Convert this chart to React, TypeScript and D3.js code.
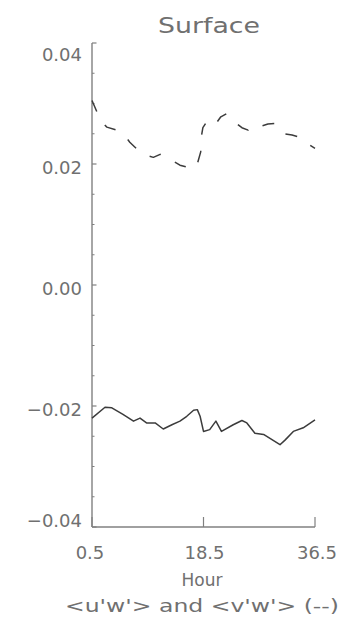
import React from "react";
import * as d3 from "d3";

const title = "Surface";
const xTicks = [0.5, 18.5, 36.5];
const yTicks = [-0.04, -0.02, 0.0, 0.02, 0.04];
const yMinorTicks = [-0.035, -0.03, -0.025, -0.015, -0.01, -0.005, 0.005, 0.01, 0.015, 0.025, 0.03, 0.035];

// <u'w'> solid line
const uwHours = [0.5, 2.6, 3.7, 5.5, 7.2, 8.25, 9.3, 10.7, 12.0, 13.4, 14.7, 15.8, 16.9, 17.5, 17.95, 18.5, 19.5, 20.5, 21.4, 23.3, 24.7, 25.5, 26.8, 28.2, 30.85, 31.7, 33.0, 34.6, 36.5];
const uwValues = [-0.022, -0.0202, -0.0203, -0.0214, -0.0225, -0.022, -0.0228, -0.0228, -0.0238, -0.0231, -0.0225, -0.0217, -0.0207, -0.0206, -0.0217, -0.0242, -0.0239, -0.0225, -0.0242, -0.0231, -0.0224, -0.0228, -0.0245, -0.0247, -0.0264, -0.0256, -0.0242, -0.0236, -0.0223];

// <v'w'> dashed line
const vwHours = [0.5, 1.3, 2.0, 2.9, 4.75, 5.7, 6.6, 8.25, 9.4, 10.4, 11.5, 12.6, 13.6, 14.7, 16.9, 17.5, 18.05, 18.1, 18.4, 18.9, 19.7, 20.6, 21.3, 22.2, 23.8, 24.7, 25.7, 26.7, 27.6, 28.9, 30.0, 31.4, 32.8, 34.1, 35.7, 36.5];
const vwValues = [0.0305, 0.0286, 0.027, 0.0261, 0.0255, 0.0248, 0.0236, 0.022, 0.0214, 0.0211, 0.0216, 0.0211, 0.0205, 0.0198, 0.0192, 0.02, 0.022, 0.0242, 0.026, 0.0268, 0.0275, 0.0268, 0.0278, 0.0283, 0.0267, 0.026, 0.0256, 0.0264, 0.0262, 0.0266, 0.0267, 0.025, 0.0248, 0.0244, 0.0231, 0.0226];

const xLabel = "Hour";
const subLabel = "<u'w'> and <v'w'> (--)";

export default function App() {
  const W = 344;
  const H = 618;
  const left = 92;
  const right = 315;
  const top = 43;
  const bottom = 527;
  const x = d3.scaleLinear().domain([0.5, 36.5]).range([left, right]);
  const y = d3.scaleLinear().domain([-0.04, 0.04]).range([bottom, top]);

  const line = d3
    .line<[number, number]>()
    .x((d) => x(d[0]))
    .y((d) => y(d[1]));

  const uw = uwHours.map((h, i) => [h, uwValues[i]] as [number, number]);
  const vw = vwHours.map((h, i) => [h, vwValues[i]] as [number, number]);

  const textColor = "#707070";
  const axisColor = "#808080";
  const lineColor = "#3c3c3c";
  const font = "DejaVu Sans, sans-serif";

  const yLabelDy = (t: number) => (t === 0.04 ? 11 : t === -0.04 ? -7 : 3.5);

  return (
    <svg
      width={W}
      height={H}
      style={{ position: "absolute", left: 0, top: 0, background: "#fff" }}
    >
      <rect x={0} y={0} width={W} height={H} fill="#fff" />
      <text
        x={209}
        y={26}
        textAnchor="middle"
        dominantBaseline="central"
        fontFamily={font}
        fontSize={21}
        fill={textColor}
        textLength={102}
        lengthAdjust="spacingAndGlyphs"
      >
        {title}
      </text>

      {/* axes */}
      <line x1={left} y1={top} x2={left} y2={bottom} stroke={axisColor} strokeWidth={1.4} />
      <line x1={left} y1={bottom} x2={right} y2={bottom} stroke={axisColor} strokeWidth={1.4} />

      {yTicks.map((t) => (
        <g key={"yt" + t}>
          <line x1={left} x2={left + 4.5} y1={y(t)} y2={y(t)} stroke={axisColor} strokeWidth={1.2} />
          <text
            x={82}
            y={y(t) + yLabelDy(t)}
            textAnchor="end"
            dominantBaseline="central"
            fontFamily={font}
            fontSize={18}
            fill={textColor}
          >
            {t === 0 ? "0.00" : (t < 0 ? "\u2212" : "") + Math.abs(t).toFixed(2)}
          </text>
        </g>
      ))}
      {yMinorTicks.map((t) => (
        <line key={"ym" + t} x1={left} x2={left + 2.5} y1={y(t)} y2={y(t)} stroke={axisColor} strokeWidth={1} />
      ))}

      {xTicks.map((t) => (
        <g key={"xt" + t}>
          <line x1={x(t)} x2={x(t)} y1={bottom} y2={bottom - 10} stroke={axisColor} strokeWidth={1.2} />
          <text
            x={x(t) + (t === 0.5 ? -2 : t === 36.5 ? 2 : 1)}
            y={552}
            textAnchor="middle"
            dominantBaseline="central"
            fontFamily={font}
            fontSize={18}
            fill={textColor}
          >
            {t.toFixed(1)}
          </text>
        </g>
      ))}

      <text
        x={202}
        y={580}
        textAnchor="middle"
        dominantBaseline="central"
        fontFamily={font}
        fontSize={17}
        fill={textColor}
      >
        {xLabel}
      </text>
      <text
        x={202}
        y={606}
        textAnchor="middle"
        dominantBaseline="central"
        fontFamily={font}
        fontSize={17}
        fill={textColor}
        textLength={274}
        lengthAdjust="spacingAndGlyphs"
      >
        {subLabel}
      </text>

      <path d={line(uw) || ""} fill="none" stroke={lineColor} strokeWidth={1.5} strokeLinejoin="round" />
      <path
        d={line(vw) || ""}
        fill="none"
        stroke={lineColor}
        strokeWidth={1.5}
        strokeDasharray="12,16"
        strokeLinejoin="round"
      />
    </svg>
  );
}
